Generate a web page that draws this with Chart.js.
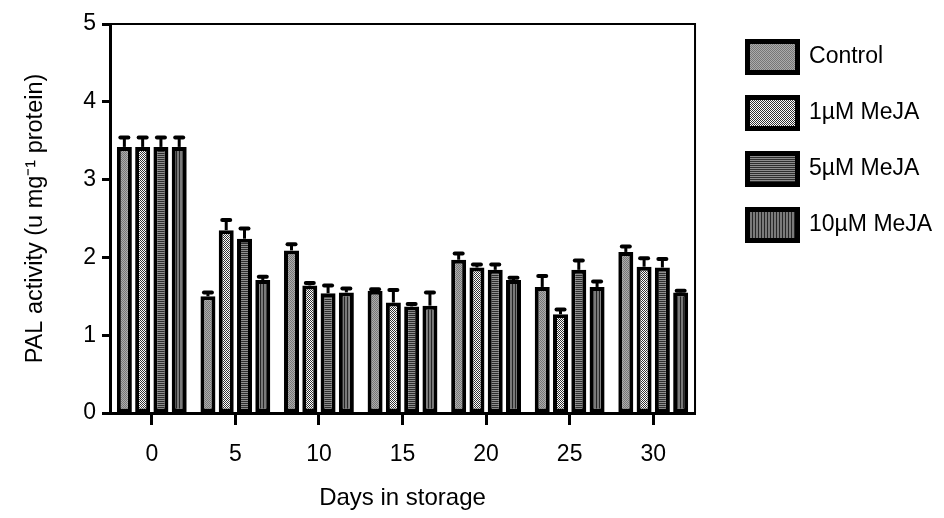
<!DOCTYPE html>
<html>
<head>
<meta charset="utf-8">
<script src="https://cdn.jsdelivr.net/npm/chart.js@4.4.0/dist/chart.umd.min.js"></script>
<style>
  html, body { margin: 0; padding: 0; background: #fff; }
</style>
</head>
<body>
<canvas id="palChart" width="944" height="518"></canvas>
<script>
// Data
var days = ["0", "5", "10", "15", "20", "25", "30"];
var controlVals = [3.42, 1.50, 2.09, 1.57, 1.97, 1.62, 2.07];
var controlErr  = [0.12, 0.05, 0.08, 0.02, 0.08, 0.14, 0.07];
var meja1Vals   = [3.42, 2.35, 1.64, 1.42, 1.87, 1.27, 1.88];
var meja1Err    = [0.12, 0.13, 0.03, 0.16, 0.04, 0.06, 0.11];
var meja5Vals   = [3.42, 2.24, 1.54, 1.37, 1.84, 1.84, 1.87];
var meja5Err    = [0.12, 0.13, 0.10, 0.03, 0.07, 0.12, 0.11];
var meja10Vals  = [3.42, 1.71, 1.55, 1.38, 1.71, 1.62, 1.55];
var meja10Err   = [0.12, 0.04, 0.05, 0.17, 0.03, 0.07, 0.02];
var yTicks = [0, 1, 2, 3, 4, 5];

Chart.defaults.font.family = "'Liberation Sans', Arial, sans-serif";
Chart.defaults.color = "#000";

var canvas = document.getElementById("palChart");
var mainCtx = canvas.getContext("2d");

// small tiles for the hatch fills
function makePattern(w, h, paint) {
  var c = document.createElement("canvas");
  c.width = w;
  c.height = h;
  paint(c.getContext("2d"));
  return mainCtx.createPattern(c, "repeat");
}

var greyDots = makePattern(2, 2, function (g) {
  g.fillStyle = "#acacac"; g.fillRect(0, 0, 2, 2);
  g.fillStyle = "#777"; g.fillRect(0, 0, 1, 1); g.fillRect(1, 1, 1, 1);
});
var checker = makePattern(2, 2, function (g) {
  g.fillStyle = "#fff"; g.fillRect(0, 0, 2, 2);
  g.fillStyle = "#333"; g.fillRect(0, 0, 1, 1); g.fillRect(1, 1, 1, 1);
});
var hStripes = makePattern(1, 2, function (g) {
  g.fillStyle = "#8e8e8e"; g.fillRect(0, 0, 1, 2);
  g.fillStyle = "#2e2e2e"; g.fillRect(0, 1, 1, 1);
});
var vStripes = makePattern(3, 1, function (g) {
  g.fillStyle = "#7a7a7a"; g.fillRect(0, 0, 3, 1);
  g.fillStyle = "#262626"; g.fillRect(2, 0, 1, 1);
});

// error bars on top of each bar
var errorBars = {
  id: "errorBars",
  afterDatasetsDraw: function (chart) {
    var ctx = chart.ctx;
    var y = chart.scales.y;
    ctx.save();
    ctx.strokeStyle = "#000";
    chart.data.datasets.forEach(function (ds, i) {
      chart.getDatasetMeta(i).data.forEach(function (bar, j) {
        var top = y.getPixelForValue(ds.data[j] + ds.errors[j]);
        ctx.lineWidth = 3;
        ctx.lineCap = "butt";
        ctx.beginPath();
        ctx.moveTo(bar.x, bar.y);
        ctx.lineTo(bar.x, top);
        ctx.stroke();
        ctx.lineWidth = 4;
        ctx.lineCap = "round";
        ctx.beginPath();
        ctx.moveTo(bar.x - 4, top);
        ctx.lineTo(bar.x + 4, top);
        ctx.stroke();
      });
    });
    ctx.restore();
  }
};

// top and right edges of the plot box
var frame = {
  id: "frame",
  afterDraw: function (chart) {
    var a = chart.chartArea;
    var ctx = chart.ctx;
    ctx.save();
    ctx.strokeStyle = "#000";
    ctx.lineWidth = 2;
    ctx.beginPath();
    ctx.moveTo(a.left, a.top);
    ctx.lineTo(a.right, a.top);
    ctx.lineTo(a.right, a.bottom);
    ctx.stroke();
    ctx.restore();
  }
};

function series(label, vals, errs, fill) {
  return {
    label: label,
    data: vals,
    errors: errs,
    backgroundColor: fill,
    borderColor: "#000",
    borderWidth: 4,
    borderSkipped: false,
    barPercentage: 0.82,
    categoryPercentage: 0.875
  };
}

new Chart(canvas, {
  type: "bar",
  data: {
    labels: days,
    datasets: [
      series("Control", controlVals, controlErr, greyDots),
      series("1\u00b5M MeJA", meja1Vals, meja1Err, checker),
      series("5\u00b5M MeJA", meja5Vals, meja5Err, hStripes),
      series("10\u00b5M MeJA", meja10Vals, meja10Err, vStripes)
    ]
  },
  options: {
    responsive: false,
    animation: false,
    devicePixelRatio: 1,
    layout: { padding: { left: 12, right: 1.8, top: 16.5, bottom: 4 } },
    plugins: {
      tooltip: { enabled: false },
      legend: {
        position: "right",
        align: "start",
        maxWidth: 300,
        labels: {
          boxWidth: 50,
          boxHeight: 31,
          padding: 25,
          color: "#000",
          font: { size: 23 },
          generateLabels: function (chart) {
            return Chart.defaults.plugins.legend.labels.generateLabels(chart).map(function (l) {
              l.lineWidth = 5;
              l.strokeStyle = "#000";
              return l;
            });
          }
        }
      }
    },
    scales: {
      x: {
        ticks: { color: "#000", font: { size: 23 }, padding: 16 },
        grid: { display: true, offset: false, drawOnChartArea: false, tickLength: 12, tickWidth: 3, color: "#000" },
        border: { display: true, width: 3, color: "#000" },
        title: { display: true, text: "Days in storage", color: "#000", font: { size: 24 }, padding: { top: 4, bottom: 1 } },
        afterFit: function (s) { s.height = 101; }
      },
      y: {
        min: 0,
        max: 5,
        afterBuildTicks: function (s) { s.ticks = yTicks.map(function (v) { return { value: v }; }); },
        ticks: { color: "#000", font: { size: 23 }, padding: 6 },
        grid: { display: true, drawOnChartArea: false, tickLength: 8, tickWidth: 3, color: "#000" },
        border: { display: true, width: 3, color: "#000" },
        title: { display: true, text: "PAL activity (u mg\u207b\u00b9 protein)", color: "#000", font: { size: 23.5 }, padding: { top: 9, bottom: 0 } },
        afterFit: function (s) { s.width = 98; s.paddingTop = 24; }
      },
      y2: {
        position: "right",
        display: true,
        grid: { display: false },
        border: { display: false },
        ticks: { display: false },
        afterFit: function (s) { s.width = 27.5; }
      }
    }
  },
  plugins: [errorBars, frame]
});
</script>
</body>
</html>
